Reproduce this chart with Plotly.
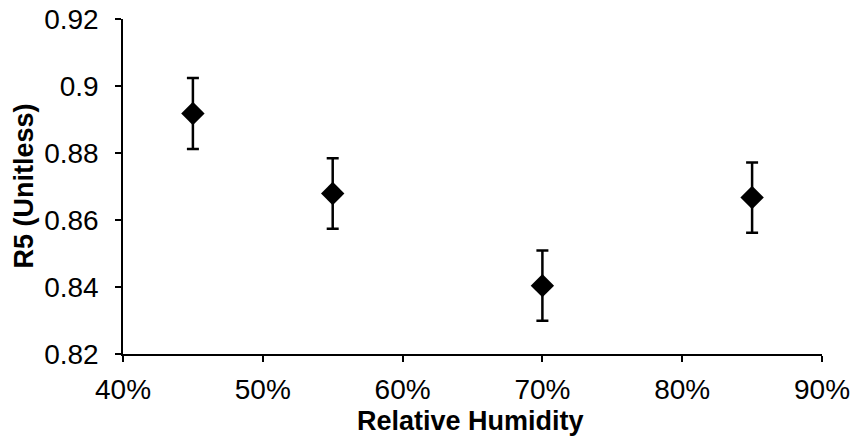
import plotly.graph_objects as go

# Relative humidity levels and measured R5 with error
humidity = [0.45, 0.55, 0.70, 0.85]
r5 = [0.8918, 0.8679, 0.8404, 0.8667]
r5_err = [0.0106, 0.0105, 0.0105, 0.0105]

x_ticks = [0.4, 0.5, 0.6, 0.7, 0.8, 0.9]
x_labels = ["40%", "50%", "60%", "70%", "80%", "90%"]
y_ticks = [0.82, 0.84, 0.86, 0.88, 0.9, 0.92]
y_labels = ["0.82", "0.84", "0.86", "0.88", "0.9", "0.92"]

x_title = "<b>Relative Humidity</b>"
y_title = "<b>R5 (Unitless)</b>"

fig = go.Figure(
    go.Scatter(
        x=humidity,
        y=r5,
        mode="markers",
        marker=dict(symbol="diamond", size=18, color="black"),
        error_y=dict(type="data", array=r5_err, visible=True,
                     color="black", thickness=2.5, width=6),
        showlegend=False,
    )
)

font_family = "Liberation Sans, Arial, sans-serif"

fig.update_layout(
    width=853,
    height=445,
    margin=dict(l=123, r=31, t=19, b=91),
    paper_bgcolor="white",
    plot_bgcolor="white",
    font=dict(family=font_family, color="black", size=28),
)

axis_style = dict(
    automargin=False,
    showgrid=False,
    zeroline=False,
    showline=True,
    linecolor="black",
    linewidth=1.5,
    ticks="outside",
    ticklen=6,
    tickwidth=1.5,
    tickcolor="black",
    tickfont=dict(size=28),
)

fig.update_xaxes(range=[0.4, 0.9], tickvals=x_ticks, ticktext=x_labels,
                 ticklabelstandoff=4, **axis_style)
fig.update_yaxes(range=[0.82, 0.92], tickvals=y_ticks, ticktext=y_labels,
                 ticklabelstandoff=11, **axis_style)

# Axis titles placed as annotations for precise positioning
fig.add_annotation(text=x_title, xref="paper", yref="paper", x=0.497, y=-0.2,
                   xanchor="center", yanchor="middle", showarrow=False,
                   font=dict(size=27))
fig.add_annotation(text=y_title, xref="paper", yref="paper", x=-0.143, y=0.5,
                   xanchor="center", yanchor="middle", textangle=-90,
                   showarrow=False, font=dict(size=27))

fig.write_html("out.html")
